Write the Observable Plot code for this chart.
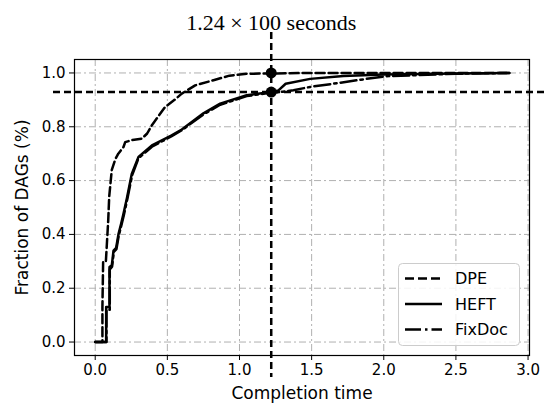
<!DOCTYPE html>
<html>
<head>
<meta charset="utf-8">
<script src="https://cdn.jsdelivr.net/npm/d3@7"></script>
<script src="https://cdn.jsdelivr.net/npm/@observablehq/plot@0.6"></script>
<style>
  html, body { margin: 0; padding: 0; background: white; }
  #chart { width: 553px; height: 404px; }
</style>
</head>
<body>
<div id="chart"></div>
<script>
// ---- data ----
const seriesNames = ["DPE", "HEFT", "FixDoc"];

const dpeX = [0, 0.05, 0.05, 0.055, 0.074, 0.09, 0.097, 0.115, 0.14, 0.16, 0.196, 0.208, 0.25, 0.324, 0.36, 0.393, 0.485, 0.55, 0.60, 0.693, 0.82, 0.93, 1.05, 1.5, 2.0, 2.87];
const dpeY = [0, 0, 0.13, 0.30, 0.30, 0.45, 0.54, 0.64, 0.68, 0.70, 0.725, 0.743, 0.75, 0.756, 0.775, 0.806, 0.874, 0.90, 0.923, 0.954, 0.973, 0.99, 0.997, 1.0, 1.0, 1.0];

const heftX = [0, 0.076, 0.076, 0.099, 0.099, 0.115, 0.127, 0.145, 0.161, 0.18, 0.196, 0.22, 0.254, 0.30, 0.393, 0.53, 0.60, 0.75, 0.866, 1.05, 1.22, 1.27, 1.32, 1.49, 1.72, 2.0, 2.5, 2.87];
const heftY = [0, 0, 0.13, 0.13, 0.279, 0.285, 0.34, 0.35, 0.40, 0.44, 0.477, 0.535, 0.626, 0.688, 0.731, 0.768, 0.79, 0.85, 0.886, 0.917, 0.929, 0.935, 0.96, 0.978, 0.989, 0.994, 0.998, 1.0];

const fixX = [0, 0.078, 0.078, 0.101, 0.101, 0.117, 0.129, 0.147, 0.163, 0.182, 0.198, 0.222, 0.256, 0.30, 0.393, 0.53, 0.60, 0.75, 0.866, 1.05, 1.22, 1.30, 1.374, 1.49, 1.65, 1.84, 2.02, 2.5, 2.87];
const fixY = [0, 0, 0.12, 0.12, 0.27, 0.28, 0.335, 0.345, 0.395, 0.435, 0.47, 0.53, 0.62, 0.683, 0.726, 0.765, 0.787, 0.846, 0.882, 0.914, 0.927, 0.93, 0.936, 0.948, 0.96, 0.975, 0.988, 0.997, 1.0];

const refX = 1.22;          // vertical reference line
const refY = 0.929;         // horizontal reference line
const markerX = [1.22, 1.22];
const markerY = [1.0, 0.929];

const xTicks = [0, 0.5, 1.0, 1.5, 2.0, 2.5, 3.0];
const yTicks = [0, 0.2, 0.4, 0.6, 0.8, 1.0];
const titleText = "1.24 × 100 seconds";
const xLabel = "Completion time";
const yLabel = "Fraction of DAGs (%)";

// ---- build tables ----
const toRows = (xs, ys) => xs.map((x, i) => ({x, y: ys[i]}));
const dpe = toRows(dpeX, dpeY);
const heft = toRows(heftX, heftY);
const fix = toRows(fixX, fixY);
const markers = toRows(markerX, markerY);

const dashStyles = {DPE: "9,4", HEFT: null, FixDoc: "16,4,2.5,4"};

const plot = Plot.plot({
  width: 553,
  height: 404,
  marginLeft: 74,
  marginRight: 24,
  marginTop: 59,
  marginBottom: 49,
  x: {domain: [-0.1435, 3.01]},
  y: {domain: [-0.05, 1.05]},
  style: {fontFamily: "DejaVu Sans", fontSize: "15px", color: "black", background: "white", overflow: "visible"},
  marks: [
    Plot.gridX(xTicks, {stroke: "#b0b0b0", strokeOpacity: 1, strokeWidth: 1, strokeDasharray: "7,3,2,3"}),
    Plot.gridY(yTicks, {stroke: "#b0b0b0", strokeOpacity: 1, strokeWidth: 1, strokeDasharray: "7,3,2,3"}),
    Plot.line(dpe, {x: "x", y: "y", stroke: "black", strokeWidth: 2.5, strokeDasharray: dashStyles.DPE}),
    Plot.line(heft, {x: "x", y: "y", stroke: "black", strokeWidth: 2.5}),
    Plot.line(fix, {x: "x", y: "y", stroke: "black", strokeWidth: 2.5, strokeDasharray: dashStyles.FixDoc}),
    Plot.ruleX([refX], {stroke: "black", strokeWidth: 2.5, strokeDasharray: "7,4", insetTop: -27, insetBottom: -22}),
    Plot.ruleY([refY], {stroke: "black", strokeWidth: 2.5, strokeDasharray: "7,4", insetLeft: -21, insetRight: -16}),
    Plot.dot(markers, {x: "x", y: "y", r: 5.5, fill: "black", stroke: "none"}),
    Plot.frame({stroke: "black", strokeWidth: 1.2}),
    Plot.axisX(xTicks, {tickSize: 5, tickPadding: 4, tickFormat: d => d.toFixed(1), label: null, fontSize: 15}),
    Plot.axisY(yTicks, {tickSize: 5, tickPadding: 4, tickFormat: d => d.toFixed(1), label: null, fontSize: 15}),
    Plot.text([xLabel], {frameAnchor: "bottom", dy: 38, lineAnchor: "middle", textAnchor: "middle", fontSize: 17}),
    Plot.text([yLabel], {frameAnchor: "left", dx: -52, rotate: -90, lineAnchor: "middle", textAnchor: "middle", fontSize: 17}),
    Plot.text([{x: refX, t: titleText}], {x: "x", text: "t", frameAnchor: "top", dy: -37, lineAnchor: "middle", textAnchor: "middle", fontSize: 22, fontFamily: "Liberation Serif", style: "letter-spacing:0.6px"})
  ]
});

// ---- legend (matplotlib style, lower right) ----
const svg = d3.select(plot);
const lg = svg.append("g").attr("font-family", "DejaVu Sans").attr("font-size", 16).attr("text-anchor", "start");
lg.append("rect")
  .attr("x", 398.5).attr("y", 263.5).attr("width", 121).attr("height", 82)
  .attr("rx", 4).attr("fill", "white").attr("fill-opacity", 0.85)
  .attr("stroke", "#cccccc").attr("stroke-width", 1);
seriesNames.forEach((name, i) => {
  const cy = 278.5 + i * 25.5;
  lg.append("line")
    .attr("x1", 405).attr("x2", 442).attr("y1", cy).attr("y2", cy)
    .attr("stroke", "black").attr("stroke-width", 2.5)
    .attr("stroke-dasharray", dashStyles[name]);
  lg.append("text")
    .attr("x", 455).attr("y", cy).attr("dy", "0.35em")
    .attr("text-anchor", "start").attr("font-size", 16)
    .attr("fill", "black").text(name);
});

document.getElementById("chart").appendChild(plot);
</script>
</body>
</html>
